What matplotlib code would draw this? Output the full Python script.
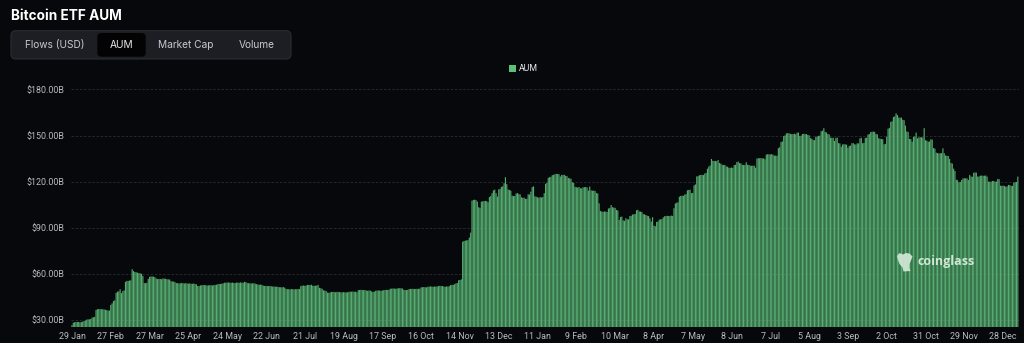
import matplotlib
matplotlib.use('Agg')
import matplotlib.pyplot as plt
from matplotlib.patches import FancyBboxPatch, Rectangle, Polygon
import numpy as np

# Bitcoin ETF total AUM, $B, one value per day starting 29 Jan 2024
# (one row per x-axis label interval, 29 days each)
aum_bn = [
    26.6, 28.2, 28.5, 28.7, 28.7, 28.7, 28.4, 28.6, 28.9, 29.3, 29.5, 30.2, 30.4, 30.4, 30.6, 31.5, 31.7, 32.0, 36.5, 37.0, 37.1, 37.1, 36.9, 37.0, 36.8, 36.6, 36.4, 36.1, 36.1,
    39.8, 40.8, 42.3, 42.8, 47.6, 48.4, 48.6, 50.0, 47.4, 48.8, 49.2, 54.8, 55.4, 55.4, 55.6, 55.8, 63.0, 61.8, 61.2, 61.0, 60.8, 60.4, 60.4, 60.0, 58.6, 54.0, 53.9, 54.2, 56.7,
    58.0, 58.3, 58.2, 58.2, 57.8, 56.9, 56.6, 56.7, 56.7, 56.5, 57.0, 56.9, 56.8, 56.5, 56.4, 56.3, 55.3, 55.0, 55.0, 54.6, 54.0, 53.9, 53.8, 53.8, 54.1, 53.9, 53.7, 53.9, 53.8,
    53.6, 53.8, 53.5, 53.5, 53.7, 53.4, 53.2, 52.1, 52.0, 52.5, 52.6, 52.7, 52.7, 52.6, 52.4, 52.5, 52.6, 52.6, 52.4, 52.7, 52.8, 52.9, 53.3, 53.4, 53.4, 53.6, 53.8, 54.2, 54.3,
    54.3, 54.4, 54.2, 54.2, 54.3, 54.1, 54.0, 54.3, 54.3, 54.2, 54.4, 54.3, 54.2, 54.8, 54.6, 54.0, 53.9, 53.9, 53.7, 53.8, 53.9, 53.6, 53.3, 53.0, 52.9, 53.0, 52.8, 52.3, 52.1,
    52.2, 52.0, 52.1, 52.1, 51.9, 51.7, 51.8, 51.6, 51.7, 51.5, 51.3, 51.3, 51.2, 51.4, 51.0, 50.2, 50.0, 50.0, 49.9, 50.1, 50.0, 49.9, 50.0, 50.0, 50.2, 50.1, 52.0, 52.3, 52.4,
    52.2, 52.4, 52.8, 52.8, 52.7, 52.9, 52.3, 52.2, 52.3, 52.4, 52.8, 50.9, 50.6, 50.3, 49.3, 49.1, 48.8, 47.8, 47.7, 47.9, 48.2, 48.3, 48.2, 48.0, 48.2, 48.3, 48.1, 48.0, 47.9,
    48.1, 48.0, 47.9, 48.0, 48.3, 48.4, 48.4, 48.5, 48.3, 48.4, 48.0, 49.4, 49.5, 49.6, 49.5, 49.4, 49.5, 49.1, 49.0, 49.2, 49.1, 48.5, 48.3, 48.4, 49.0, 49.1, 49.2, 49.1, 49.0,
    49.1, 49.4, 49.5, 49.6, 49.5, 49.7, 50.3, 50.4, 50.5, 50.4, 50.3, 50.5, 50.6, 50.7, 50.6, 50.5, 49.6, 49.5, 49.4, 49.6, 50.1, 50.2, 50.2, 50.3, 50.1, 50.2, 50.3, 50.2, 50.4,
    51.2, 51.3, 51.4, 51.3, 51.2, 51.6, 51.7, 51.8, 51.7, 51.6, 51.7, 51.8, 51.7, 52.1, 52.2, 52.0, 52.1, 51.7, 51.6, 51.8, 51.7, 52.0, 52.7, 52.8, 52.9, 53.2, 53.8, 54.0, 55.8,
    56.0, 56.4, 80.9, 81.4, 81.6, 81.8, 82.0, 83.6, 86.8, 107.6, 108.1, 108.3, 108.0, 107.0, 103.4, 102.9, 107.0, 107.2, 107.4, 107.5, 107.3, 106.6, 110.0, 110.6, 112.5, 114.3, 114.8, 112.5, 110.3,
    115.0, 115.3, 116.6, 117.0, 119.0, 122.9, 118.4, 114.9, 114.6, 114.2, 110.9, 110.6, 110.7, 112.3, 112.6, 111.9, 111.7, 109.8, 109.5, 109.6, 108.8, 108.9, 111.8, 111.6, 113.5, 116.5, 116.9, 110.5, 110.2,
    109.8, 109.6, 109.9, 109.7, 110.0, 112.5, 118.6, 119.3, 122.5, 122.9, 123.2, 124.2, 124.5, 124.8, 125.1, 125.0, 124.9, 123.4, 124.3, 124.4, 124.5, 123.8, 123.6, 122.4, 122.2, 121.9, 119.6, 119.2, 116.6,
    116.4, 116.2, 116.5, 115.7, 115.6, 116.3, 116.4, 116.5, 116.2, 114.2, 116.8, 114.4, 114.1, 114.2, 114.0, 112.6, 112.3, 105.9, 101.0, 100.5, 100.4, 100.6, 100.5, 100.3, 102.5, 102.9, 104.8, 103.4, 103.1,
    103.0, 101.6, 101.2, 95.1, 97.0, 97.3, 94.8, 94.5, 96.2, 95.6, 95.4, 97.6, 97.8, 98.6, 98.8, 99.0, 101.4, 101.7, 100.6, 100.5, 100.3, 98.9, 98.7, 98.3, 97.8, 97.6, 96.2, 94.0, 96.9,
    91.4, 91.0, 93.8, 94.1, 95.3, 95.5, 95.7, 96.8, 97.5, 97.7, 97.8, 97.6, 97.7, 97.9, 97.7, 102.7, 105.8, 106.3, 106.6, 110.2, 110.7, 110.9, 110.8, 111.6, 111.9, 114.4, 114.6, 114.8, 112.5,
    112.7, 117.6, 118.2, 123.4, 123.6, 124.2, 124.4, 124.5, 124.3, 125.3, 125.7, 128.4, 129.8, 130.5, 134.8, 133.6, 133.4, 133.5, 133.3, 134.1, 132.2, 131.8, 131.0, 130.8, 130.9, 129.9, 129.7, 129.1, 129.0,
    129.2, 129.0, 130.8, 131.0, 132.8, 133.1, 132.1, 131.9, 131.0, 130.8, 130.9, 132.6, 131.0, 130.8, 130.5, 130.3, 130.4, 130.4, 129.1, 135.0, 135.3, 135.2, 135.4, 135.1, 135.2, 134.6, 137.6, 137.9, 137.8,
    137.7, 137.9, 137.6, 136.9, 137.0, 136.8, 141.8, 142.4, 145.8, 146.2, 149.7, 150.1, 151.4, 151.6, 151.5, 151.1, 150.9, 151.0, 151.2, 150.8, 151.9, 152.0, 149.8, 149.9, 151.0, 151.2, 150.9, 151.0, 150.4,
    150.2, 148.3, 148.0, 147.2, 147.0, 149.2, 149.4, 149.8, 150.0, 152.8, 153.2, 154.8, 152.4, 152.0, 151.0, 150.8, 148.7, 148.5, 148.6, 146.5, 148.4, 148.7, 145.1, 144.9, 142.8, 144.2, 144.4, 144.3, 144.1,
    142.1, 143.3, 143.5, 145.0, 145.1, 144.3, 144.2, 145.0, 144.9, 148.2, 148.6, 145.0, 145.2, 148.4, 148.7, 150.7, 151.0, 152.3, 152.5, 152.6, 152.4, 151.0, 150.8, 148.3, 148.0, 147.8, 147.6, 144.3, 144.6,
    149.3, 154.5, 155.0, 158.9, 159.3, 162.1, 162.5, 164.5, 163.4, 161.8, 161.6, 161.7, 160.3, 160.0, 156.5, 152.7, 152.3, 147.9, 147.7, 146.0, 149.2, 149.4, 151.9, 148.2, 148.8, 149.0, 148.9, 148.7, 154.8,
    147.0, 146.7, 146.0, 146.2, 147.6, 147.4, 141.9, 141.5, 138.9, 138.6, 138.4, 138.5, 138.6, 141.7, 138.5, 137.0, 136.9, 136.7, 134.8, 132.2, 131.8, 128.5, 127.0, 121.3, 120.9, 119.6, 119.8, 121.1, 122.1,
    122.3, 122.1, 122.2, 121.1, 124.4, 123.4, 123.2, 125.8, 126.0, 125.9, 123.3, 123.4, 123.9, 124.0, 123.8, 123.9, 124.0, 123.3, 120.1, 119.9, 120.0, 120.5, 120.4, 120.0, 120.1, 121.8, 121.6, 117.4, 117.3,
    117.4, 117.2, 116.8, 116.9, 117.9, 117.8, 117.2, 117.3, 119.4, 119.6, 119.8, 123.3,
]

# x-axis labels, shown every 29 bars
tick_labels = ['29 Jan', '27 Feb', '27 Mar', '25 Apr', '24 May', '22 Jun', '21 Jul',
               '19 Aug', '17 Sep', '16 Oct', '14 Nov', '13 Dec', '11 Jan', '9 Feb',
               '10 Mar', '8 Apr', '7 May', '8 Jun', '7 Jul', '5 Aug', '3 Sep',
               '2 Oct', '31 Oct', '29 Nov', '28 Dec']
label_step = 29
y_ticks = [30, 60, 90, 120, 150, 180]

tabs = ['Flows (USD)', 'AUM', 'Market Cap', 'Volume']
tab_centers = [55, 121.5, 186, 257]

BG = '#07080b'
BAR = '#55ad70'
TXT = '#b9bbbf'

plt.rcParams['font.family'] = ['Roboto', 'DejaVu Sans']

W, H = 1024, 343
fig = plt.figure(figsize=(W / 100, H / 100), dpi=100, facecolor=BG)

# main chart, placed in pixel terms
left, right, top, bottom = 71.3, 1018.5, 89.5, 327
ax = fig.add_axes([left / W, 1 - bottom / H, (right - left) / W, (bottom - top) / H])
ax.set_facecolor(BG)

x = np.arange(len(aum_bn))
bars = ax.bar(x, aum_bn, width=0.85, color=BAR, linewidth=0, zorder=2)
for b in bars:
    b.set_snap(False)
ax.set_xlim(-0.5, len(aum_bn) - 0.5)
ax.set_ylim(25.4, 180)

ax.set_yticks(y_ticks)
ax.set_yticklabels([f'${v:.2f}B' for v in y_ticks])
ax.set_xticks(np.arange(len(tick_labels)) * label_step)
ax.set_xticklabels(tick_labels)
ax.tick_params(axis='both', length=0, colors=TXT, labelsize=6.4)
ax.tick_params(axis='y', pad=5)
ax.tick_params(axis='x', pad=3.5)
for s in ax.spines.values():
    s.set_visible(False)
for v in y_ticks:
    ax.axhline(v, color='#9a9a9a', alpha=0.25, lw=0.6, ls=(0, (3, 2)), zorder=3)

# overlay in pixel coordinates for the header, legend and watermark
ui = fig.add_axes([0, 0, 1, 1], zorder=5)
ui.set_xlim(0, W)
ui.set_ylim(H, 0)
ui.set_facecolor('none')
ui.axis('off')

ui.text(11, 15.5, 'Bitcoin ETF AUM', color='white', fontsize=9.8, fontweight='bold',
        family=['Inter', 'DejaVu Sans'], va='center', ha='left')

ui.add_patch(FancyBboxPatch((11, 30.7), 280, 28.3, boxstyle='round,pad=0,rounding_size=5',
                            facecolor='#1d1e23', edgecolor='#2c2d33', lw=0.8))
ui.add_patch(FancyBboxPatch((97.3, 33), 48.4, 23.7, boxstyle='round,pad=0,rounding_size=4',
                            facecolor='#030304', edgecolor='none'))
for name, cx in zip(tabs, tab_centers):
    ui.text(cx, 45, name, color='#e8e8ea' if name == 'AUM' else '#c9cacd', fontsize=7.3,
            family=['Inter', 'DejaVu Sans'], ha='center', va='center')

# legend
ui.add_patch(Rectangle((508.5, 64.5), 7, 7, facecolor='#5cc07a', edgecolor='none'))
ui.text(519, 68.2, 'AUM', color='#e6e6e6', fontsize=6.3, va='center', ha='left')

# coinglass watermark
logo = [(897, 256), (899.5, 253), (903, 254.5), (906, 253), (909.5, 253.5), (912.5, 256.5),
        (911, 260.5), (909.5, 264), (909.5, 268), (910.5, 271), (903.5, 271.5),
        (902.5, 267.5), (899.5, 264), (898, 260)]
ui.add_patch(Polygon(logo, closed=True, facecolor='#d2e8d6', edgecolor='none', alpha=0.92))
ui.text(917.5, 262, 'coinglass', color='#dcefe0', alpha=0.92, fontsize=9,
        fontweight='bold', family=['Open Sans', 'DejaVu Sans'], va='center', ha='left')

fig.savefig('out.png', dpi=100, facecolor=BG)
